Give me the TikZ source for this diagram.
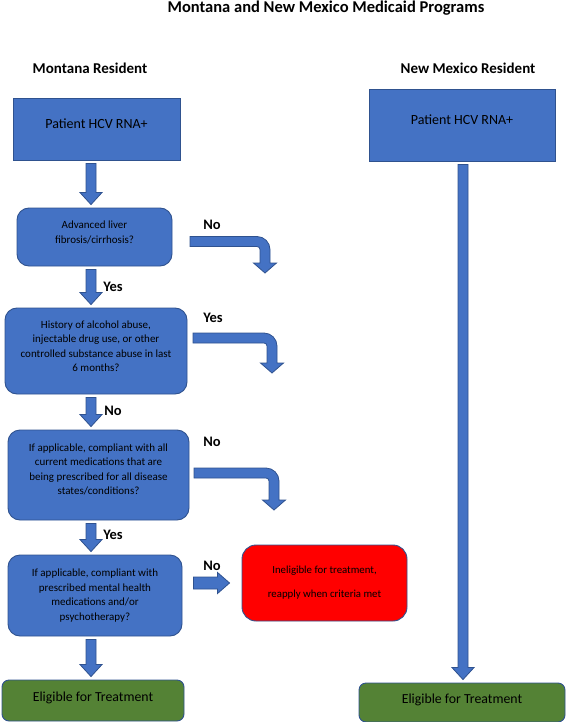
\documentclass[tikz,border=0pt]{standalone}
\usepackage{fontspec}
\setmainfont{Carlito}
\usepackage{tikz}
\usetikzlibrary{calc}

\definecolor{boxblue}{HTML}{4472C4}
\definecolor{edgeblue}{HTML}{2F528F}
\definecolor{okgreen}{HTML}{548235}
\definecolor{stopred}{HTML}{FF0000}

\tikzset{
  fatarrow/.style={fill=boxblue, draw=edgeblue, line width=0.8pt, line join=miter},
  startbox/.style={rectangle, fill=boxblue, draw=edgeblue, line width=0.9pt, inner sep=0pt, text depth=10pt, font=\fontsize{14}{16}\selectfont},
  askbox/.style={rectangle, rounded corners=12pt, fill=boxblue, draw=edgeblue, line width=0.9pt, inner sep=0pt, align=center, font=\fontsize{11}{14.4}\selectfont},
  endbox/.style={rectangle, rounded corners=7pt, fill=okgreen, draw=edgeblue, line width=0.9pt, inner sep=0pt, text depth=7pt, font=\fontsize{13.8}{16}\selectfont},
  answer/.style={font=\bfseries\fontsize{14.5}{16}\selectfont, inner sep=0pt}
}

%% fat arrow straight down, at x=#1, from node #2 to node #3
\newcommand{\fatdown}[3]{%
\draw[fatarrow] let \p1=(#2.south), \p2=(#3.north) in
  (#1pt-5pt,\y1-3pt) -- (#1pt+5pt,\y1-3pt) -- (#1pt+5pt,\y2+15pt)
  -- (#1pt+11pt,\y2+15pt) -- (#1pt,\y2+3pt) -- (#1pt-11pt,\y2+15pt)
  -- (#1pt-5pt,\y2+15pt) -- cycle;}

%% fat arrow going right, then bending down to coordinate #2
\newcommand{\fatbend}[2]{%
\draw[fatarrow] let \p1=(#1), \p2=(#2) in
  (\x1,\y1+5pt) -- (\x2-8pt,\y1+5pt) arc[start angle=90, end angle=0, radius=13pt]
  -- (\x2+5pt,\y2+10pt) -- (\x2+11.5pt,\y2+10pt) -- (\x2,\y2) -- (\x2-11.5pt,\y2+10pt)
  -- (\x2-5pt,\y2+10pt) -- (\x2-5pt,\y1-8pt) arc[start angle=0, end angle=90, radius=3pt]
  -- (\x1,\y1-5pt) -- cycle;}

\begin{document}
\begin{tikzpicture}[x=1pt, y=-1pt]
\useasboundingbox (0,0) rectangle (566,722);

%%Headings
\node[font=\bfseries\fontsize{16.5}{18}\selectfont] (title) at (326,8) {Montana and New Mexico Medicaid Programs};
\node[font=\bfseries\fontsize{15}{17}\selectfont] (mthead) at (90,68) {Montana Resident};
\node[font=\bfseries\fontsize{15}{17}\selectfont] (nmhead) at (468,68) {New Mexico Resident};

%%Montana column
\node[startbox, minimum width=167pt, minimum height=62pt] (mtpatient) at (96.5,129) {Patient HCV RNA+};
\node[askbox, text depth=10pt, minimum width=155pt, minimum height=58pt] (fibrosis) at (94.5,237) {Advanced liver\\fibrosis/cirrhosis?};
\node[askbox, text depth=10pt, minimum width=182pt, minimum height=86pt] (abuse) at (96,351) {History of alcohol abuse,\\injectable drug use, or other\\controlled substance abuse in last\\6 months?};
\node[askbox, text depth=12pt, minimum width=181pt, minimum height=90pt] (meds) at (98.5,475) {If applicable, compliant with all\\current medications that are\\being prescribed for all disease\\states/conditions?};
\node[askbox, minimum width=174pt, minimum height=81pt] (mental) at (95,595.5) {If applicable, compliant with\\prescribed mental health\\medications and/or\\psychotherapy?};
\node[endbox, minimum width=182pt, minimum height=41pt] (mteligible) at (93,700.5) {Eligible for Treatment};

%%Ineligible
\node[rectangle, rounded corners=14pt, fill=stopred, draw=edgeblue, line width=0.9pt, inner sep=0pt, align=center,
      minimum width=165pt, minimum height=76pt, font=\fontsize{10.8}{12}\selectfont] (ineligible) at (324.5,583)
      {Ineligible for treatment,\\[12pt]reapply when criteria met};

%%New Mexico column
\node[startbox, minimum width=186pt, minimum height=72pt] (nmpatient) at (462,125) {Patient HCV RNA+};
\node[endbox, minimum width=206pt, minimum height=39pt] (nmeligible) at (462,702.5) {Eligible for Treatment};

%%Down arrows
\fatdown{91}{mtpatient}{fibrosis}
\fatdown{91}{fibrosis}{abuse}
\fatdown{91}{abuse}{meds}
\fatdown{91}{meds}{mental}
\fatdown{91}{mental}{mteligible}
\fatdown{463}{nmpatient}{nmeligible}

%%Side arrows
\coordinate (fibrosisout) at (190,241.5);
\coordinate (fibrosisend) at (265,273);
\coordinate (abuseout) at (193,338);
\coordinate (abuseend) at (272,373);
\coordinate (medsout) at (194,473);
\coordinate (medsend) at (274,510);
\fatbend{fibrosisout}{fibrosisend}
\fatbend{abuseout}{abuseend}
\fatbend{medsout}{medsend}

\draw[fatarrow] let \p1=(mental.east), \p2=(ineligible.west) in
  (\x1+11pt,\y2+6pt) -- (\x2-24pt,\y2+6pt) -- (\x2-24pt,\y2+10.5pt) -- (\x2-12pt,\y2)
  -- (\x2-24pt,\y2-10.5pt) -- (\x2-24pt,\y2-6pt) -- (\x1+11pt,\y2-6pt) -- cycle;

%%Answers
\node[answer] (ans1) at (212,225) {No};
\node[answer] (ans2) at (113,287) {Yes};
\node[answer] (ans3) at (213,318) {Yes};
\node[answer] (ans4) at (113,411) {No};
\node[answer] (ans5) at (212,442) {No};
\node[answer] (ans6) at (113,535) {Yes};
\node[answer] (ans7) at (212,566) {No};

\end{tikzpicture}
\end{document}
